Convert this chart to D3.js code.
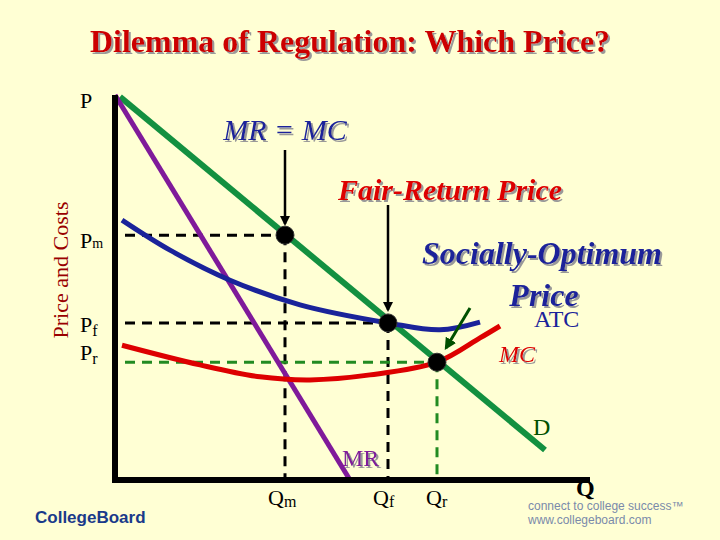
<!DOCTYPE html><html><head><meta charset="utf-8">
<script src="https://cdn.jsdelivr.net/npm/d3@7"></script>
<style>body{margin:0;background:#FFFFD4}</style></head><body>
<svg id="c" width="720" height="540"></svg>
<script>
const demand=[[1,99.5],[86,7.8]];
const mr=[[0,100],[47,0]];
const atc=[[1.4,67.5],[11,59.7],[23,51.9],[37,45.5],[54.6,40.8],[65,39],[73,41]];
const mc=[[1.4,35],[17,29.9],[29,26.8],[39,26],[51,27.3],[64.4,30.6],[73,36.9],[77,40]];
const pts={m:[34,63.6],f:[54.6,40.8],r:[64.4,30.6]};
const svg=d3.select("#c");
svg.append("rect").attr("width",720).attr("height",540).attr("fill","#FFFFD4");
const x=d3.scaleLinear().domain([0,100]).range([115,615]);
const y=d3.scaleLinear().domain([0,100]).range([480,95]);
const line=d3.line().x(d=>x(d[0])).y(d=>y(d[1]));
const curve=d3.line().x(d=>x(d[0])).y(d=>y(d[1])).curve(d3.curveCatmullRom);
const defs=svg.append("defs");
defs.append("filter").attr("id","sh").html('<feDropShadow dx="2" dy="2" stdDeviation="0.5" flood-color="#999"/>');
[["ab","#000"],["ag","#005000"]].forEach(([id,c])=>defs.append("marker").attr("id",id).attr("viewBox","0 0 10 10").attr("refX",8).attr("refY",5).attr("markerWidth",4).attr("markerHeight",4).attr("orient","auto").append("path").attr("d","M0,0L10,5L0,10z").attr("fill",c));
svg.append("text").attr("x",350).attr("y",52).attr("text-anchor","middle").attr("font-family","Liberation Serif").attr("font-weight","bold").attr("font-size",32).attr("fill","#CC0000").attr("filter","url(#sh)").text("Dilemma of Regulation: Which Price?");
svg.append("text").attr("transform","translate(68,270) rotate(-90)").attr("text-anchor","middle").attr("font-family","Liberation Serif").attr("font-size",22).attr("fill","#990000").text("Price and Costs");
// dashed guides
function dash(a,b,c,col){svg.append("path").attr("d",line([a,b])).attr("stroke",col).attr("stroke-width",3).attr("stroke-dasharray","10,7").attr("fill","none");}
dash([2,pts.m[1]],pts.m,0,"#000");dash(pts.m,[pts.m[0],0],0,"#000");
dash([2,pts.f[1]],pts.f,0,"#000");dash(pts.f,[pts.f[0],0],0,"#000");
dash([2,pts.r[1]],pts.r,0,"#228B22");dash(pts.r,[pts.r[0],0],0,"#228B22");
svg.append("path").attr("d",line(demand)).attr("stroke","#139040").attr("stroke-width",6).attr("fill","none");
svg.append("path").attr("d",line(mr)).attr("stroke","#7F1A9A").attr("stroke-width",5).attr("fill","none");
svg.append("path").attr("d",curve(atc)).attr("stroke","#1A239A").attr("stroke-width",5).attr("fill","none");
svg.append("path").attr("d",curve(mc)).attr("stroke","#DD0000").attr("stroke-width",5).attr("fill","none");
// axes
svg.append("path").attr("d",line([[0,100],[0,0],[95,0]])).attr("stroke","#000").attr("stroke-width",6).attr("fill","none");
Object.values(pts).forEach(p=>svg.append("circle").attr("cx",x(p[0])).attr("cy",y(p[1])).attr("r",9).attr("fill","#000").attr("stroke","#333").attr("stroke-width",1));
// arrows
svg.append("line").attr("x1",285).attr("y1",150).attr("x2",285).attr("y2",224).attr("stroke","#000").attr("stroke-width",2.5).attr("marker-end","url(#ab)");
svg.append("line").attr("x1",388).attr("y1",205).attr("x2",388).attr("y2",310).attr("stroke","#000").attr("stroke-width",2.5).attr("marker-end","url(#ab)");
svg.append("line").attr("x1",470).attr("y1",308).attr("x2",446).attr("y2",348).attr("stroke","#005000").attr("stroke-width",3).attr("marker-end","url(#ag)");
const T=(t,px,py,o={})=>{const e=svg.append("text").attr("x",px).attr("y",py).attr("font-family","Liberation Serif").attr("font-size",o.s||22).attr("fill",o.c||"#000").attr("text-anchor",o.a||"start").attr("font-style",o.i?"italic":"normal").attr("font-weight",o.b?"bold":"normal");if(o.sh)e.attr("filter","url(#sh)");return e.text(t);};
T("P",80,108);
T("P",80,248).append("tspan").attr("font-size",14).text("m");
T("P",80,332).append("tspan").attr("font-size",16).attr("dy",4).text("f");
T("P",80,360).append("tspan").attr("font-size",16).attr("dy",4).text("r");
T("Q",268,505).append("tspan").attr("font-size",16).attr("dy",2).text("m");
T("Q",373,505).append("tspan").attr("font-size",16).attr("dy",2).text("f");
T("Q",426,505).append("tspan").attr("font-size",16).attr("dy",2).text("r");
T("Q",576,496,{b:true,s:24});
T("MR",342,466,{c:"#7F1A9A",s:24,sh:true});
T("D",533,435,{c:"#005000",s:24});
T("ATC",534,327,{c:"#1A239A",s:24});
T("MC",499,362,{c:"#DD0000",s:24,i:true,sh:true});
T("MR = MC",285,140,{c:"#1A239A",s:30,i:true,a:"middle",sh:true});
T("Fair-Return Price",450,200,{c:"#DD0000",s:30,i:true,b:true,a:"middle",sh:true});
T("Socially-Optimum",542,264,{c:"#1A239A",s:32,i:true,b:true,a:"middle",sh:true});
T("Price",544,306,{c:"#1A239A",s:32,i:true,b:true,a:"middle",sh:true});
T("CollegeBoard",35,523,{c:"#1A3A8A",s:17,b:true}).attr("font-family","Liberation Sans");
T("connect to college success™",528,510,{c:"#7A8AAA",s:12}).attr("font-family","Liberation Sans");
T("www.collegeboard.com",528,524,{c:"#7A8AAA",s:12}).attr("font-family","Liberation Sans");
</script></body></html>
